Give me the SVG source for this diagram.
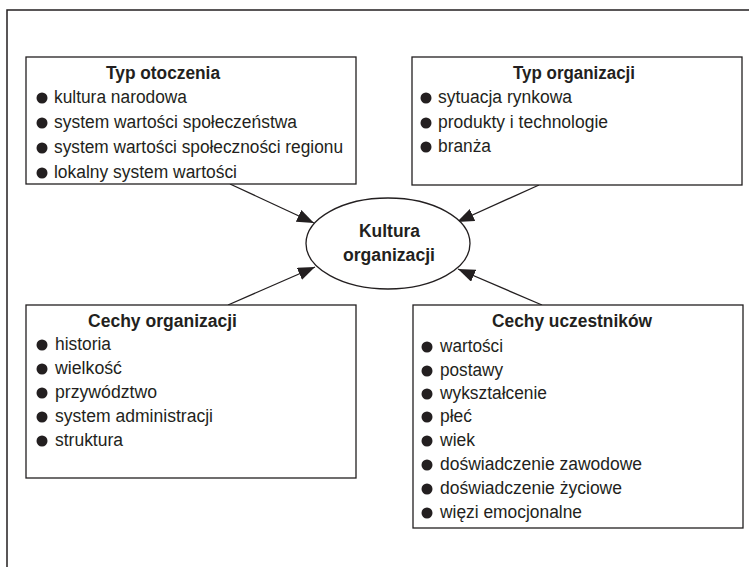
<svg xmlns="http://www.w3.org/2000/svg" width="749" height="567" viewBox="0 0 749 567">
<defs>
<marker id="ah" markerUnits="userSpaceOnUse" markerWidth="18" markerHeight="14" refX="17" refY="6.5" orient="auto">
<path d="M0,0 L17,6.5 L0,13 z" fill="#231f20"/>
</marker>
<style>
.box{fill:#fff;stroke:#231f20;stroke-width:1.3}
.t{font-family:"Liberation Sans",Arial,sans-serif;font-size:18px;fill:#231f20}
.h{font-weight:bold}
.b{fill:#231f20}
.c{stroke:#231f20;stroke-width:1.3;fill:none;marker-end:url(#ah)}
</style>
</defs>
<rect width="749" height="567" fill="#fff"/>
<rect x="7" y="10" width="760" height="580" fill="none" stroke="#231f20" stroke-width="1.5"/>

<g id="connectors">
<line class="c" x1="230" y1="184" x2="314" y2="223"/>
<line class="c" x1="539" y1="185" x2="457" y2="222"/>
<line class="c" x1="228" y1="305" x2="315" y2="267"/>
<line class="c" x1="542" y1="305" x2="458" y2="269"/>
</g>

<g id="typ-otoczenia">
<rect class="box" x="26" y="57" width="330" height="127"/>
<text class="t h" x="106" y="79" textLength="114" lengthAdjust="spacingAndGlyphs">Typ otoczenia</text>
<circle class="b" cx="42" cy="98" r="5.5"/><text class="t" x="54" y="103" textLength="133" lengthAdjust="spacingAndGlyphs">kultura narodowa</text>
<circle class="b" cx="42" cy="123" r="5.5"/><text class="t" x="54" y="128" textLength="243" lengthAdjust="spacingAndGlyphs">system wartości społeczeństwa</text>
<circle class="b" cx="42" cy="148" r="5.5"/><text class="t" x="54" y="153" textLength="289" lengthAdjust="spacingAndGlyphs">system wartości społeczności regionu</text>
<circle class="b" cx="42" cy="173" r="5.5"/><text class="t" x="54" y="178" textLength="183" lengthAdjust="spacingAndGlyphs">lokalny system wartości</text>
</g>

<g id="typ-organizacji">
<rect class="box" x="412" y="57" width="330" height="128"/>
<text class="t h" x="513" y="79" textLength="122" lengthAdjust="spacingAndGlyphs">Typ organizacji</text>
<circle class="b" cx="426" cy="98" r="5.5"/><text class="t" x="438" y="103" textLength="134" lengthAdjust="spacingAndGlyphs">sytuacja rynkowa</text>
<circle class="b" cx="426" cy="123" r="5.5"/><text class="t" x="438" y="128" textLength="170" lengthAdjust="spacingAndGlyphs">produkty i technologie</text>
<circle class="b" cx="426" cy="147" r="5.5"/><text class="t" x="438" y="152" textLength="53" lengthAdjust="spacingAndGlyphs">branża</text>
</g>

<g id="kultura-organizacji">
<ellipse cx="388" cy="243.5" rx="82" ry="45.5" fill="#fff" stroke="#231f20" stroke-width="1.3"/>
<text class="t h" x="359" y="237" textLength="61" lengthAdjust="spacingAndGlyphs">Kultura</text>
<text class="t h" x="343" y="261" textLength="92" lengthAdjust="spacingAndGlyphs">organizacji</text>
</g>

<g id="cechy-organizacji">
<rect class="box" x="26" y="305" width="330" height="173"/>
<text class="t h" x="88" y="327" textLength="149" lengthAdjust="spacingAndGlyphs">Cechy organizacji</text>
<circle class="b" cx="42" cy="345" r="5.5"/><text class="t" x="55" y="350" textLength="56" lengthAdjust="spacingAndGlyphs">historia</text>
<circle class="b" cx="42" cy="369" r="5.5"/><text class="t" x="55" y="374" textLength="67" lengthAdjust="spacingAndGlyphs">wielkość</text>
<circle class="b" cx="42" cy="393" r="5.5"/><text class="t" x="55" y="398" textLength="102" lengthAdjust="spacingAndGlyphs">przywództwo</text>
<circle class="b" cx="42" cy="417" r="5.5"/><text class="t" x="55" y="422" textLength="158" lengthAdjust="spacingAndGlyphs">system administracji</text>
<circle class="b" cx="42" cy="441" r="5.5"/><text class="t" x="55" y="446" textLength="68" lengthAdjust="spacingAndGlyphs">struktura</text>
</g>

<g id="cechy-uczestnikow">
<rect class="box" x="413" y="305" width="330" height="223"/>
<text class="t h" x="492" y="327" textLength="160" lengthAdjust="spacingAndGlyphs">Cechy uczestników</text>
<circle class="b" cx="427" cy="347" r="5.5"/><text class="t" x="440" y="352" textLength="63" lengthAdjust="spacingAndGlyphs">wartości</text>
<circle class="b" cx="427" cy="371" r="5.5"/><text class="t" x="440" y="376" textLength="63" lengthAdjust="spacingAndGlyphs">postawy</text>
<circle class="b" cx="427" cy="394" r="5.5"/><text class="t" x="440" y="399" textLength="107" lengthAdjust="spacingAndGlyphs">wykształcenie</text>
<circle class="b" cx="427" cy="417" r="5.5"/><text class="t" x="440" y="422" textLength="32" lengthAdjust="spacingAndGlyphs">płeć</text>
<circle class="b" cx="427" cy="441" r="5.5"/><text class="t" x="440" y="446" textLength="35" lengthAdjust="spacingAndGlyphs">wiek</text>
<circle class="b" cx="427" cy="465" r="5.5"/><text class="t" x="440" y="470" textLength="202" lengthAdjust="spacingAndGlyphs">doświadczenie zawodowe</text>
<circle class="b" cx="427" cy="489" r="5.5"/><text class="t" x="440" y="494" textLength="182" lengthAdjust="spacingAndGlyphs">doświadczenie życiowe</text>
<circle class="b" cx="427" cy="513" r="5.5"/><text class="t" x="440" y="518" textLength="142" lengthAdjust="spacingAndGlyphs">więzi emocjonalne</text>
</g>
</svg>
